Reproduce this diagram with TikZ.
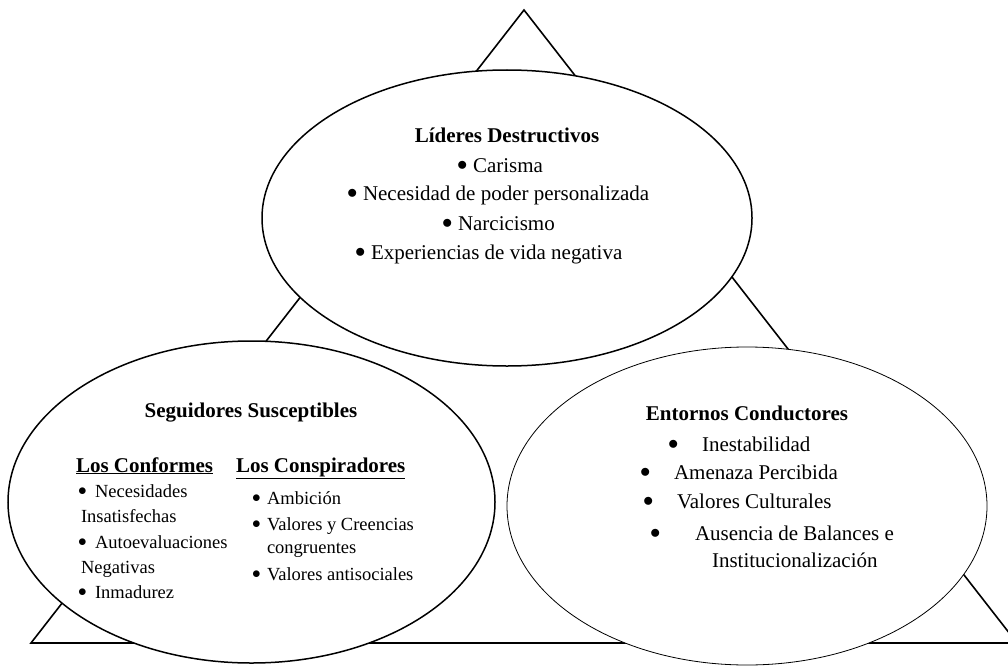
\documentclass[tikz,border=0pt]{standalone}
\usepackage{fontspec}
\setmainfont{Liberation Serif}
\newcommand\bul[1]{\makebox[#1][l]{\raisebox{0.08em}{$\bullet$}}}
\tikzset{
  base/.style={inner sep=0pt, outer sep=0pt},
  hd/.style={base, anchor=base, font=\fontsize{21}{25}\selectfont\bfseries},
  sub/.style={base, anchor=base west, font=\fontsize{21}{25}\selectfont\bfseries},
  txt/.style={base, anchor=base west, font=\fontsize{21}{25}\selectfont},
  sm/.style={base, anchor=base west, font=\fontsize{18.5}{22}\selectfont},
  tri/.style={line width=1.6pt, line join=miter},
  oval/.style={fill=white, line width=1.5pt},
  thinoval/.style={fill=white, line width=0.8pt}
}
\begin{document}
\begin{tikzpicture}[x=1pt, y=-1pt]
\path[use as bounding box] (0,0) rectangle (1008,666);
\clip (0,0) rectangle (1008,666);
% triangle
\coordinate (A) at (524,10);
\coordinate (L) at (31,643);
\coordinate (R) at (1017,643);
\draw[tri] (L) -- (A) -- (R) -- cycle;
% ellipses
\coordinate (cT) at (507,218);
\coordinate (cL) at (251.5,502);
\coordinate (cR) at (747,506);
\draw[oval] (cT) ellipse [x radius=245, y radius=148];
\draw[oval] (cL) ellipse [x radius=243.5, y radius=161];
\draw[thinoval] (cR) ellipse [x radius=240, y radius=159];
% top texts
\node[hd] (t0) at (507,142) {Líderes Destructivos};
\node[txt] (t1) at (457,172) {\bul{16pt}Carisma};
\node[txt] (t2) at (347,200) {\bul{16pt}Necesidad de poder personalizada};
\node[txt] (t3) at (442,230) {\bul{16pt}Narcicismo};
\node[txt] (t4) at (355,259) {\bul{16pt}Experiencias de vida negativa};
% left texts
\node[hd] (l0) at (251,417) {Seguidores Susceptibles};
\node[sub] (l1) at (76,472) {\underline{Los Conformes}};
\node[sub] (l2) at (236,472) {\underline{Los Conspiradores}};
\node[sm] (a1) at (78,497) {\bul{17pt}Necesidades};
\node[sm] (a2) at (81,522) {Insatisfechas};
\node[sm] (a3) at (78,548) {\bul{17pt}Autoevaluaciones};
\node[sm] (a4) at (81,573) {Negativas};
\node[sm] (a5) at (78,598) {\bul{17pt}Inmadurez};
\node[sm] (b1) at (252,504) {\bul{15pt}Ambición};
\node[sm] (b2) at (252,530) {\bul{15pt}Valores y Creencias};
\node[sm] (b3) at (267,553) {congruentes};
\node[sm] (b4) at (252,580) {\bul{15pt}Valores antisociales};
% right texts
\node[hd] (r0) at (747,420) {Entornos Conductores};
\node[txt] (r1) at (668,451) {\bul{34pt}Inestabilidad};
\node[txt] (r2) at (640,479) {\bul{34pt}Amenaza Percibida};
\node[txt] (r3) at (643,508) {\bul{34pt}Valores Culturales};
\node[txt] (r4) at (650,540) {\bul{45pt}Ausencia de Balances e};
\node[txt] (r5) at (712,567) {Institucionalización};
\end{tikzpicture}
\end{document}
